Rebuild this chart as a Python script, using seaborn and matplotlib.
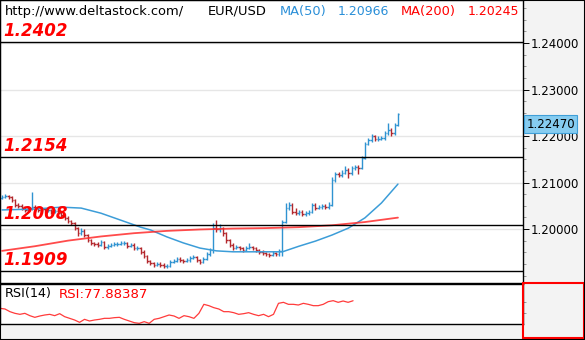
import numpy as np
import matplotlib
matplotlib.use("Agg")
import matplotlib.pyplot as plt
import seaborn as sns
from matplotlib.patches import Rectangle
from matplotlib.ticker import MultipleLocator, FormatStrFormatter, NullLocator

# ---------------- data ----------------
close = [1.2069, 1.2071, 1.2069, 1.2062, 1.2052, 1.2050, 1.2043, 1.2041, 1.2045, 1.2047,
         1.2045, 1.2041, 1.2043, 1.2039, 1.2041, 1.2037, 1.2039, 1.2034, 1.2030, 1.2024,
         1.2017, 1.2013, 1.2002, 1.1991, 1.1996, 1.1987, 1.1976, 1.1970, 1.1968, 1.1966,
         1.1972, 1.1961, 1.1964, 1.1966, 1.1968, 1.1968, 1.1970, 1.1970, 1.1964, 1.1966,
         1.1959, 1.1959, 1.1951, 1.1942, 1.1931, 1.1927, 1.1923, 1.1925, 1.1923, 1.1921,
         1.1921, 1.1929, 1.1931, 1.1936, 1.1933, 1.1931, 1.1933, 1.1938, 1.1940, 1.1933,
         1.1929, 1.1936, 1.1946, 1.1955, 1.2002, 1.2000, 1.2002, 1.1991, 1.1976, 1.1966,
         1.1959, 1.1961, 1.1959, 1.1955, 1.1959, 1.1961, 1.1959, 1.1955, 1.1951, 1.1948,
         1.1946, 1.1944, 1.1948, 1.1946, 1.1953, 1.2015, 1.2045, 1.2052, 1.2037, 1.2034,
         1.2037, 1.2032, 1.2034, 1.2037, 1.2052, 1.2045, 1.2047, 1.2050, 1.2047, 1.2052,
         1.2105, 1.2118, 1.2116, 1.2121, 1.2127, 1.2121, 1.2131, 1.2133, 1.2131, 1.2153,
         1.2183, 1.2191, 1.2200, 1.2194, 1.2194, 1.2196, 1.2207, 1.2213, 1.2207, 1.2224,
         1.2247]
high = [1.2073, 1.2075, 1.2074, 1.2072, 1.2065, 1.2056, 1.2053, 1.2047, 1.2049, 1.2079,
        1.2051, 1.2048, 1.2047, 1.2046, 1.2045, 1.2044, 1.2043, 1.2042, 1.2037, 1.2033,
        1.2027, 1.2020, 1.2016, 1.2005, 1.2002, 1.1999, 1.1990, 1.1979, 1.1973, 1.1972,
        1.1976, 1.1975, 1.1968, 1.1970, 1.1972, 1.1972, 1.1974, 1.1974, 1.1973, 1.1970,
        1.1969, 1.1963, 1.1962, 1.1954, 1.1945, 1.1934, 1.1930, 1.1929, 1.1928, 1.1927,
        1.1925, 1.1933, 1.1935, 1.1940, 1.1939, 1.1936, 1.1937, 1.1942, 1.1944, 1.1943,
        1.1936, 1.1940, 1.1950, 1.1959, 1.2013, 1.2020, 1.2010, 1.2005, 1.1994, 1.1979,
        1.1969, 1.1965, 1.1964, 1.1962, 1.1963, 1.1970, 1.1964, 1.1962, 1.1958, 1.1954,
        1.1951, 1.1949, 1.1952, 1.1951, 1.1957, 1.2019, 1.2056, 1.2059, 1.2055, 1.2045,
        1.2041, 1.2040, 1.2038, 1.2041, 1.2056, 1.2055, 1.2051, 1.2054, 1.2053, 1.2058,
        1.2112, 1.2123, 1.2122, 1.2126, 1.2135, 1.2131, 1.2135, 1.2138, 1.2137, 1.2157,
        1.2188, 1.2195, 1.2205, 1.2203, 1.2199, 1.2200, 1.2211, 1.2228, 1.2217, 1.2229,
        1.2249]
low = [1.2064, 1.2066, 1.2065, 1.2058, 1.2048, 1.2046, 1.2040, 1.2037, 1.2038, 1.2041,
       1.2041, 1.2037, 1.2038, 1.2035, 1.2036, 1.2033, 1.2034, 1.2030, 1.2026, 1.2020,
       1.2013, 1.2009, 1.1998, 1.1985, 1.1987, 1.1983, 1.1972, 1.1966, 1.1964, 1.1962,
       1.1963, 1.1957, 1.1958, 1.1961, 1.1963, 1.1964, 1.1965, 1.1966, 1.1960, 1.1961,
       1.1955, 1.1955, 1.1947, 1.1938, 1.1927, 1.1923, 1.1919, 1.1920, 1.1919, 1.1917,
       1.1917, 1.1918, 1.1926, 1.1928, 1.1929, 1.1927, 1.1928, 1.1930, 1.1935, 1.1929,
       1.1924, 1.1926, 1.1933, 1.1942, 1.1949, 1.1994, 1.1993, 1.1985, 1.1970, 1.1962,
       1.1955, 1.1956, 1.1955, 1.1951, 1.1952, 1.1956, 1.1955, 1.1951, 1.1947, 1.1944,
       1.1942, 1.1940, 1.1941, 1.1942, 1.1943, 1.1941, 1.2012, 1.2040, 1.2033, 1.2030,
       1.2031, 1.2028, 1.2029, 1.2031, 1.2034, 1.2041, 1.2042, 1.2044, 1.2043, 1.2044,
       1.2049, 1.2101, 1.2112, 1.2111, 1.2118, 1.2110, 1.2117, 1.2127, 1.2118, 1.2128,
       1.2150, 1.2180, 1.2188, 1.2190, 1.2190, 1.2191, 1.2192, 1.2203, 1.2200, 1.2203,
       1.2221]
first_open = 1.2066

ma50_bar = [0, 10, 18, 24, 30, 36, 42, 45, 50, 55, 60, 65, 70, 75, 80, 85, 90, 95, 100, 105, 110, 115, 120]
ma50 = [1.2041, 1.2043, 1.2047, 1.2045, 1.2034, 1.2019, 1.2004, 1.1998, 1.1983, 1.1970, 1.1959, 1.1953,
        1.1951, 1.1951, 1.1951, 1.1951, 1.1963, 1.1974, 1.1987, 1.2002, 1.2024, 1.2056, 1.20966]
ma200_bar = [0, 10, 20, 30, 40, 50, 60, 70, 80, 90, 100, 110, 120]
ma200 = [1.1953, 1.1963, 1.1975, 1.1984, 1.1991, 1.1996, 1.1999, 1.2001, 1.2002, 1.2004, 1.2008, 1.2015, 1.20245]

rsi = [68.8, 68.0, 64.8, 62.8, 61.6, 62.8, 60.0, 58.0, 59.6, 60.8,
       61.6, 60.0, 62.4, 58.8, 56.8, 54.8, 52.0, 55.6, 53.6, 54.8,
       55.6, 56.8, 56.8, 57.6, 58.0, 55.6, 53.6, 51.6, 50.8, 52.8,
       50.8, 55.6, 56.8, 58.8, 60.8, 59.6, 56.8, 60.0, 58.8, 56.8,
       62.8, 73.6, 72.0, 69.6, 68.0, 64.8, 64.8, 63.6, 61.6, 62.4,
       63.6, 61.6, 60.0, 61.6, 58.8, 61.6, 74.8, 76.0, 73.6, 73.6,
       72.8, 74.8, 73.6, 72.0, 72.0, 73.6, 76.8, 78.0, 76.0, 77.6,
       76.0, 77.9]

levels = [1.2402, 1.2154, 1.2008, 1.1909]
level_labels = ["1.2402", "1.2154", "1.2008", "1.1909"]
price_ticks = [1.20, 1.21, 1.22, 1.23, 1.24]
last_price = 1.22470
ma50_last, ma200_last, rsi_last = 1.20966, 1.20245, 77.88387

# ---------------- style ----------------
sns.set_theme(style="white")
plt.rcParams["font.family"] = ["DejaVu Sans"]

W, H = 585, 340
fig = plt.figure(figsize=(W / 100, H / 100), dpi=100)
fig.patch.set_facecolor("#f3f3f3")

ax = fig.add_axes([0, 57 / H, 523 / W, 283 / H])
rax = fig.add_axes([0, 16 / H, 523 / W, 40 / H])
for a in (ax, rax):
    a.set_facecolor("white")
    a.set_xlim(-0.6, 157.9)
    for s in a.spines.values():
        s.set_color("black")
        s.set_linewidth(1.0)
    a.xaxis.set_major_locator(NullLocator())

ax.set_ylim(1.18839, 1.24925)
ax.yaxis.tick_right()
ax.set_yticks(price_ticks)
ax.yaxis.set_major_formatter(FormatStrFormatter("%.5f"))
ax.yaxis.set_minor_locator(MultipleLocator(0.0025))
ax.tick_params(axis="y", which="major", direction="out", length=4, width=0.7,
               colors="black", labelsize=8.5, pad=1.5, right=True, left=False)
ax.tick_params(axis="y", which="minor", direction="out", length=2.5, width=0.5,
               colors="#777777", right=True, left=False)
ax.grid(axis="y", which="major", color="#e6e6e6", lw=1.0)
ax.set_axisbelow(True)

# OHLC bars
n = len(close)
x = np.arange(n)
opens = np.array([first_open] + close[:-1])
closes = np.array(close)
cols = np.where(closes >= opens, "#2f93d1", "#b3282d")
ax.vlines(x, low, high, colors=cols, lw=1.0, zorder=3)
ax.hlines(opens, x - 0.45, x, colors=cols, lw=1.0, zorder=3)
ax.hlines(closes, x, x + 0.45, colors=cols, lw=1.0, zorder=3)

# moving averages
sns.lineplot(x=ma50_bar, y=ma50, ax=ax, color="#3c9dd8", lw=1.1, zorder=4)
sns.lineplot(x=ma200_bar, y=ma200, ax=ax, color="#ff2b2b", lw=1.3, alpha=0.85, zorder=4)

# levels
for lv, lb in zip(levels, level_labels):
    ax.axhline(lv, color="black", lw=1.0, zorder=5)
    ax.annotate(lb, xy=(0, lv), xycoords=("axes fraction", "data"), xytext=(2.2, 4.3),
                textcoords="offset points", fontsize=12, fontweight="bold", fontstyle="italic",
                color="#ff0000", ha="left", va="baseline", zorder=6)

# current price box
ax.annotate(f"{last_price:.5f}", xy=(1, last_price), xycoords=("axes fraction", "data"),
            xytext=(2.5, -2.5), textcoords="offset points", fontsize=8.5, color="black",
            ha="left", va="top", annotation_clip=False, zorder=10,
            bbox=dict(boxstyle="square,pad=0.2", fc="#86ccf0", ec="#3f9fd8", lw=0.8))

ax.set_xlabel("")
ax.set_ylabel("")

# RSI
rax.set_ylim(50, 98)
rsi_t = np.linspace(-0.6, 106.4, len(rsi))
sns.lineplot(x=rsi_t, y=rsi, ax=rax, color="#ff3b3b", lw=0.9)
rax.yaxis.tick_right()
rax.set_yticks([63.2, 76.4])
rax.set_yticklabels([])
rax.tick_params(axis="y", direction="out", length=2.5, width=0.5, colors="#777777",
                right=True, left=False)
rax.set_xlabel("")
rax.set_ylabel("")

# header texts
def ftext(px, py, s, color, size=9.4):
    fig.text(px / W, 1 - py / H, s, color=color, fontsize=size, ha="left", va="baseline")

ftext(5, 15, "http://www.deltastock.com/", "black")
ftext(208, 15, "EUR/USD", "black")
ftext(280, 15, "MA(50)", "#2a8fd8")
ftext(338, 15, f"{ma50_last:.5f}", "#2a8fd8", 9.0)
ftext(401, 15, "MA(200)", "#ff0000")
ftext(468, 15, f"{ma200_last:.5f}", "#ff0000", 9.0)
ftext(5, 297.5, "RSI(14)", "black", 9.2)
ftext(59, 297.5, f"RSI:{rsi_last:.5f}", "#ff0000", 9.6)

# red box at RSI scale area and outer frame
fig.add_artist(Rectangle((523 / W, 2 / H), 61 / W, 55 / H, transform=fig.transFigure,
                         fill=False, ec="#ff0000", lw=1.5))
fig.add_artist(Rectangle((0, 0), 1, 1, transform=fig.transFigure, fill=False,
                         ec="black", lw=1.5))

fig.savefig("out.png", dpi=100, facecolor=fig.get_facecolor())
